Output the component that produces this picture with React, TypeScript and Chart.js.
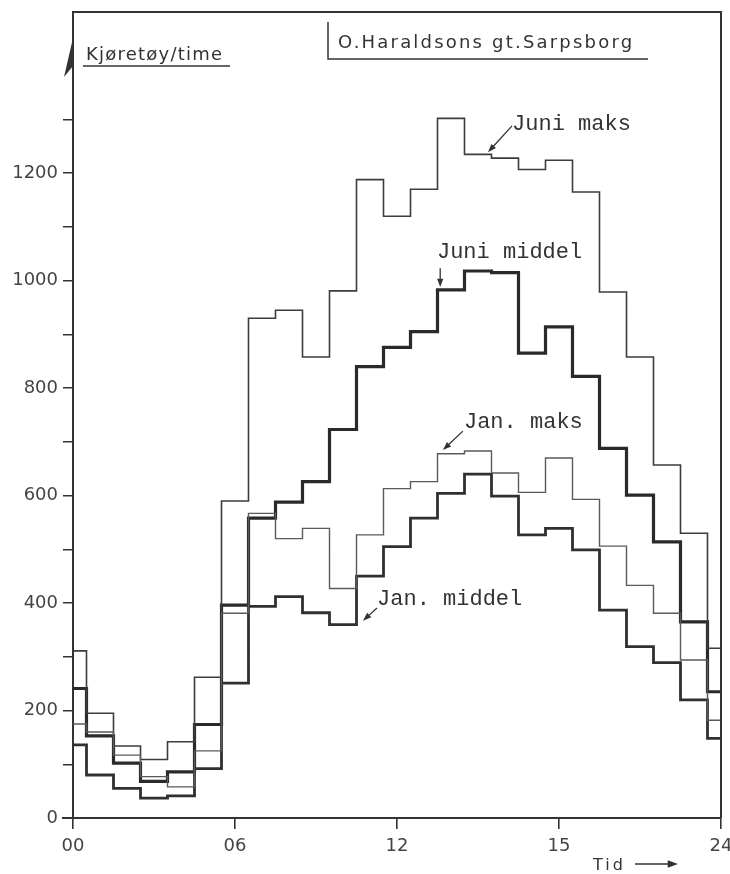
import React, { useEffect, useRef } from 'react';
import { Chart, registerables } from 'chart.js';

Chart.register(...registerables);

// ---- data (hour of day 0..24, vehicles per hour) ----
const hours = [0, 1, 2, 3, 4, 5, 6, 7, 8, 9, 10, 11, 12, 13, 14, 15, 16, 17, 18, 19, 20, 21, 22, 23, 24];
const juniMaks = [311, 195, 134, 109, 142, 262, 590, 930, 945, 858, 981, 1188, 1120, 1170, 1302, 1235, 1228, 1207, 1224, 1165, 979, 858, 657, 530, 316];
const juniMiddel = [241, 153, 102, 68, 86, 174, 396, 558, 588, 626, 723, 840, 876, 905, 983, 1018, 1015, 865, 914, 822, 688, 601, 514, 365, 235];
const janMaks = [175, 160, 117, 77, 58, 125, 381, 567, 520, 539, 427, 527, 613, 626, 678, 683, 642, 606, 670, 593, 506, 433, 381, 294, 182];
const janMiddel = [136, 80, 55, 37, 41, 92, 251, 394, 412, 382, 360, 450, 505, 558, 604, 640, 599, 527, 539, 499, 387, 319, 289, 220, 148];

const yTickLabels = [0, 200, 400, 600, 800, 1000, 1200];
const yMinorMax = 1300;
const xTickValues = [0, 6, 12, 18, 24];
const xTickLabels = ['00', '06', '12', '15', '24'];

const titleText = 'O.Haraldsons gt.Sarpsborg';
const yTitleText = 'Kjøretøy/time';
const xTitleText = 'Tid';

// annotation labels placed in data coordinates (hours, vehicles)
const annotationTexts = ['Juni maks', 'Juni middel', 'Jan. maks', 'Jan. middel'];
const annotationX = [16.26, 13.48, 14.48, 11.26];
const annotationY = [1280, 1042, 726, 396];
const arrowFromX = [16.26, 13.6, 14.44, 11.26];
const arrowFromY = [1288, 1023, 720, 391];
const arrowToX = [15.37, 13.6, 13.7, 10.74];
const arrowToY = [1239, 988, 685, 367];

const INK = '#333333';

function arrow(ctx: CanvasRenderingContext2D, x1: number, y1: number, x2: number, y2: number, head: number, lw: number) {
  const ang = Math.atan2(y2 - y1, x2 - x1);
  ctx.save();
  ctx.strokeStyle = INK;
  ctx.fillStyle = INK;
  ctx.lineWidth = lw;
  ctx.beginPath();
  ctx.moveTo(x1, y1);
  ctx.lineTo(x2 - Math.cos(ang) * head * 0.6, y2 - Math.sin(ang) * head * 0.6);
  ctx.stroke();
  ctx.beginPath();
  ctx.moveTo(x2, y2);
  ctx.lineTo(x2 - Math.cos(ang - 0.35) * head, y2 - Math.sin(ang - 0.35) * head);
  ctx.lineTo(x2 - Math.cos(ang + 0.35) * head, y2 - Math.sin(ang + 0.35) * head);
  ctx.closePath();
  ctx.fill();
  ctx.restore();
}

function spacedText(ctx: CanvasRenderingContext2D, text: string, x: number, y: number, font: string, targetWidth: number) {
  ctx.save();
  ctx.font = font;
  const w = ctx.measureText(text).width;
  const sp = Math.max(0, (targetWidth - w) / Math.max(1, text.length - 1));
  (ctx as any).letterSpacing = sp.toFixed(2) + 'px';
  ctx.textAlign = 'left';
  ctx.textBaseline = 'alphabetic';
  ctx.fillStyle = INK;
  ctx.fillText(text, x, y);
  ctx.restore();
}

const decorPlugin = {
  id: 'decor',
  afterDraw(chart: any) {
    const { ctx, chartArea } = chart;
    const { left, right, top, bottom } = chartArea;
    const xs = chart.scales.x;
    const ys = chart.scales.y;
    ctx.save();
    ctx.strokeStyle = INK;
    ctx.lineWidth = 2;
    // frame top & right
    ctx.beginPath();
    ctx.moveTo(left - 1, top);
    ctx.lineTo(right, top);
    ctx.lineTo(right, bottom);
    ctx.stroke();
    // x axis extends left of y axis
    ctx.beginPath();
    ctx.moveTo(left - 11, bottom);
    ctx.lineTo(left, bottom);
    ctx.stroke();
    // y axis arrow head (harpoon)
    ctx.fillStyle = INK;
    ctx.beginPath();
    ctx.moveTo(left, top + 26);
    ctx.lineTo(left - 9, top + 65);
    ctx.lineTo(left, top + 54);
    ctx.closePath();
    ctx.fill();

    // title box
    ctx.lineWidth = 1.5;
    ctx.beginPath();
    ctx.moveTo(328, 22);
    ctx.lineTo(328, 59);
    ctx.lineTo(648, 59);
    ctx.stroke();
    spacedText(ctx, titleText, 338, 48, '18px "DejaVu Sans"', 294);

    // y title
    spacedText(ctx, yTitleText, 86, 60, '18px "DejaVu Sans"', 136);
    ctx.beginPath();
    ctx.moveTo(83, 66);
    ctx.lineTo(230, 66);
    ctx.stroke();

    // x title
    spacedText(ctx, xTitleText, 593, 870, '16px "DejaVu Sans"', 30);
    arrow(ctx, 635, 864, 678, 864, 11, 1.5);

    // annotations
    ctx.font = '22px "Liberation Mono"';
    ctx.fillStyle = INK;
    ctx.textBaseline = 'alphabetic';
    ctx.textAlign = 'left';
    for (let i = 0; i < annotationTexts.length; i++) {
      ctx.fillText(annotationTexts[i], xs.getPixelForValue(annotationX[i]), ys.getPixelForValue(annotationY[i]));
      arrow(
        ctx,
        xs.getPixelForValue(arrowFromX[i]),
        ys.getPixelForValue(arrowFromY[i]),
        xs.getPixelForValue(arrowToX[i]),
        ys.getPixelForValue(arrowToY[i]),
        9,
        1.3
      );
    }
    ctx.restore();
  },
};

export default function App() {
  const ref = useRef<HTMLCanvasElement | null>(null);
  useEffect(() => {
    if (!ref.current) return;
    const mk = (arr: number[]) => hours.map((h, i) => ({ x: h, y: arr[i] }));
    const chart = new Chart(ref.current, {
      type: 'line',
      data: {
        datasets: [
          { label: 'Jan. maks', data: mk(janMaks), borderColor: '#5a5a5a', borderWidth: 1.4, stepped: 'middle', pointRadius: 0, fill: false },
          { label: 'Juni maks', data: mk(juniMaks), borderColor: '#3c3c3c', borderWidth: 1.6, stepped: 'middle', pointRadius: 0, fill: false },
          { label: 'Jan. middel', data: mk(janMiddel), borderColor: '#303030', borderWidth: 2.8, stepped: 'middle', pointRadius: 0, fill: false },
          { label: 'Juni middel', data: mk(juniMiddel), borderColor: '#2a2a2a', borderWidth: 3.2, stepped: 'middle', pointRadius: 0, fill: false },
        ],
      },
      options: {
        animation: false,
        responsive: false,
        devicePixelRatio: 1,
        layout: { padding: { left: 0, top: 12, right: 9, bottom: 0 } },
        plugins: { legend: { display: false }, tooltip: { enabled: false } },
        scales: {
          x: {
            type: 'linear',
            min: 0,
            max: 24,
            afterBuildTicks: (s: any) => {
              s.ticks = xTickValues.map((v) => ({ value: v }));
            },
            afterFit: (s: any) => {
              s.height = 56;
              s.paddingLeft = 0;
              s.paddingRight = 0;
            },
            ticks: {
              autoSkip: false,
              maxRotation: 0,
              padding: 7,
              color: '#444',
              font: { family: '"DejaVu Sans"', size: 18 },
              callback: (v: any) => {
                const i = xTickValues.indexOf(Number(v));
                return i >= 0 ? xTickLabels[i] : '';
              },
            },
            grid: { drawOnChartArea: false, drawTicks: true, tickLength: 11, tickColor: INK, lineWidth: 1.6 },
            border: { display: true, color: INK, width: 2 },
          },
          y: {
            min: 0,
            max: 1500,
            afterFit: (s: any) => {
              s.width = 73;
              s.paddingTop = 0;
              s.paddingBottom = 0;
            },
            ticks: {
              stepSize: 100,
              autoSkip: false,
              padding: 5,
              color: '#444',
              font: { family: '"DejaVu Sans"', size: 18 },
              callback: (v: any) => (yTickLabels.includes(Number(v)) ? String(v) : ''),
            },
            grid: {
              drawOnChartArea: false,
              drawTicks: true,
              tickLength: 10,
              lineWidth: 1.5,
              tickColor: (c: any) => (c.tick && c.tick.value <= yMinorMax ? INK : 'rgba(0,0,0,0)'),
            },
            border: { display: true, color: INK, width: 2 },
          },
        },
      } as any,
      plugins: [decorPlugin],
    });
    return () => chart.destroy();
  }, []);
  return (
    <div style={{ position: 'fixed', left: 0, top: 0, width: 730, height: 874, background: '#fff' }}>
      <canvas ref={ref} width={730} height={874} style={{ width: 730, height: 874, display: 'block' }} />
    </div>
  );
}
